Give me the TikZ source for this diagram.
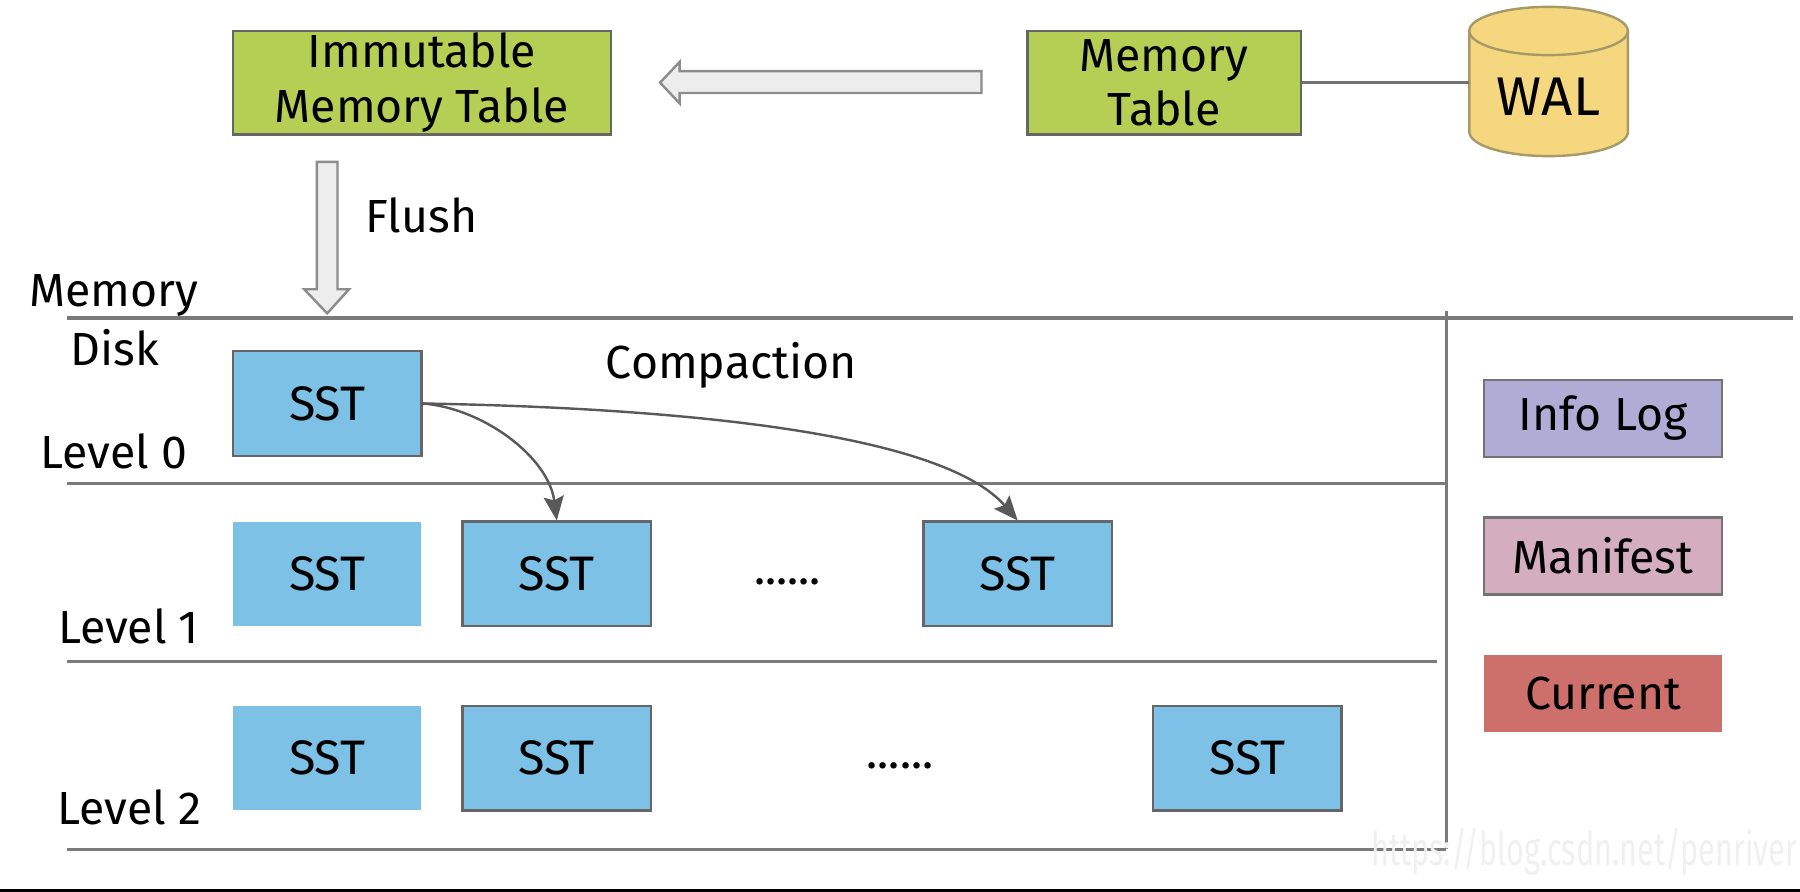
\documentclass[tikz,border=0pt]{standalone}
\usepackage{fontspec}
\setmainfont{Fira Sans}
\usetikzlibrary{arrows.meta}

\definecolor{tablegreen}{HTML}{B5CF55}
\definecolor{sstblue}{HTML}{7DC1E6}
\definecolor{walyellow}{HTML}{F5D77F}
\definecolor{walline}{HTML}{A89A66}
\definecolor{infopurple}{HTML}{B0ACD6}
\definecolor{manipink}{HTML}{D4ADBF}
\definecolor{currred}{HTML}{CD706B}
\definecolor{lineg}{HTML}{7A7A7A}

\begin{document}
\begin{tikzpicture}[x=0.01cm, y=-0.01cm, font=\fontsize{11.5}{13.5}\selectfont,
  greenbox/.style={draw=black!60, line width=0.6pt, fill=tablegreen, inner sep=0pt, align=center, minimum height=0.9cm},
  sstbox/.style={draw=black!60, line width=0.6pt, fill=sstblue, inner sep=0pt, minimum width=1.64cm, minimum height=0.91cm, font=\fontsize{12}{14}\selectfont},
  sstplain/.style={fill=sstblue, inner sep=0pt, minimum width=1.64cm, minimum height=0.91cm, font=\fontsize{12}{14}\selectfont},
  sidebox/.style={draw=black!55, line width=0.6pt, inner sep=0pt, minimum width=2.07cm, minimum height=0.67cm},
  divider/.style={draw=lineg, line width=0.8pt},
  hollow/.style={draw=black!45, fill=black!7, line width=0.6pt},
  compact/.style={draw=black!65, line width=0.6pt, -{Stealth[length=6pt, width=5pt, inset=1pt]}}]

\useasboundingbox (0,0) rectangle (1568,777);

\node[greenbox, minimum width=3.29cm] (imm) at (367.5,72) {Immutable\\Memory Table};
\node[greenbox, minimum width=2.38cm] (memtab) at (1014,72) {Memory\\Table};

\filldraw[fill=walyellow, draw=walline, line width=0.6pt] (1280,27) -- (1280,115) arc[start angle=180, end angle=360, x radius=0.69cm, y radius=0.21cm] -- (1418,27) arc[start angle=0, end angle=180, x radius=0.69cm, y radius=0.21cm] -- cycle;
\draw[draw=walline, line width=0.6pt] (1280,27) arc[start angle=180, end angle=360, x radius=0.69cm, y radius=0.21cm];
\node[font=\fontsize{13.5}{15}\selectfont] (wal) at (1349,84) {WAL};
\coordinate (walleft) at (1280,72);
\draw[draw=black!55, line width=0.6pt] (memtab.east) -- (walleft);

\draw[hollow] (855,62) -- (592,62) -- (592,54) -- (575,72) -- (592,90) -- (592,81) -- (855,81) -- cycle;
\draw[hollow] (276,141) -- (276,252) -- (265,252) -- (285,273) -- (304,252) -- (294,252) -- (294,141) -- cycle;
\node (flush) at (367,188) {Flush};

\draw[divider] (58,277) -- (1562,277);
\draw[divider] (1260,271) -- (1260,740);
\draw[divider] (58,421) -- (1260,421);
\draw[divider] (58,576) -- (1252,576);
\draw[divider] (58,740) -- (1260,740);

\node (memlabel) at (99,257) {Memory};
\node (disklabel) at (100,303) {Disk};
\node (lv0) at (99,393) {Level 0};
\node (lv1) at (112,546) {Level 1};
\node (lv2) at (113,703) {Level 2};
\node (compaction) at (637,318) {Compaction};

\node[sstbox] (sst0) at (285,351.5) {SST};

\node[sstplain] (sst10) at (285,500) {SST};
\node[sstbox] (sst11) at (485,500) {SST};
\node (dots1) at (686,507) {......};
\node[sstbox] (sst12) at (886.5,500) {SST};

\node[sstplain] (sst20) at (285,660.5) {SST};
\node[sstbox] (sst21) at (485,660.5) {SST};
\node (dots2) at (784,667) {......};
\node[sstbox] (sst22) at (1086.5,660.5) {SST};

\draw[compact] (sst0.east) .. controls +(53,4) and +(-7,-55) .. (sst11.north);
\draw[compact] (sst0.east) .. controls +(233,4) and +(-65,-75) .. (sst12.north);

\node[sidebox, fill=infopurple] (infolog) at (1396.5,364.5) {Info Log};
\node[sidebox, fill=manipink] (manifest) at (1396.5,484.5) {Manifest};
\node[sidebox, draw=none, fill=currred] (current) at (1396.5,604) {Current};

\node[text=black!6, xscale=0.66] (mark) at (1380,742) {https://blog.csdn.net/penriver};
\fill[black] (0,774.5) rectangle (1568,777);

\end{tikzpicture}
\end{document}
